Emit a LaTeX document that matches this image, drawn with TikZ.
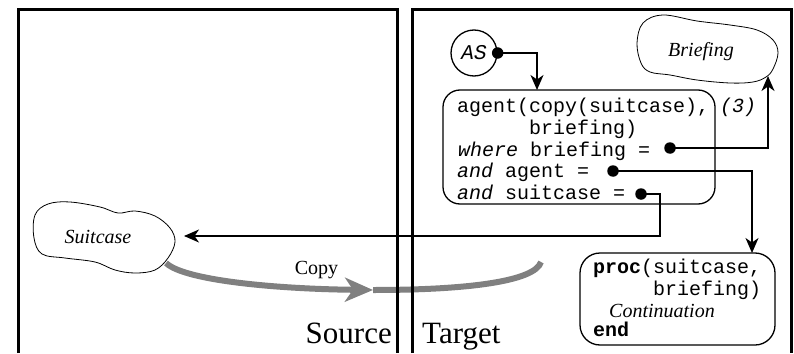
\documentclass[tikz,border=0pt]{standalone}
\usepackage{fontspec}
\setmainfont{Liberation Serif}
\setmonofont{Liberation Mono}
\usetikzlibrary{arrows.meta}
\begin{document}
\begin{tikzpicture}[x=1pt,y=-1pt,
  panel/.style={line width=3pt},
  conn/.style={line width=1.4pt,-{Stealth[length=15pt,width=13pt,inset=4.5pt]}},
  dot/.style={circle,fill=black,inner sep=0pt,minimum size=11.5pt},
  cloudline/.style={line width=0.8pt},
  codebox/.style={draw,line width=1.3pt,rounded corners=17pt,inner sep=0pt},
  code/.style={font=\ttfamily\fontsize{20}{22}\selectfont,inner sep=0pt,anchor=base west},
  serif/.style={font=\fontsize{20}{22}\selectfont,inner sep=0pt},
  big/.style={font=\fontsize{31}{34}\selectfont,inner sep=0pt},
  copyline/.style={line width=6pt,draw=black!50},
]
\useasboundingbox (0,0) rectangle (794,353);

% gray copy arrow
\coordinate (cs) at (166,263);
\coordinate (cm) at (373,290);
\coordinate (ce) at (541,262);
\draw[copyline,-{Stealth[length=28pt,width=24pt,inset=8pt]}] (cs) .. controls (185,281) and (280,289) .. (cm);
\draw[copyline] (cm) .. controls (470,290) and (535,281) .. (ce);
\node[serif] (copylbl) at (316.5,270) {Copy};

% panels
\draw[panel] (18.5,353) -- (18.5,9.5) -- (397.5,9.5) -- (397.5,353);
\draw[panel] (412.5,353) -- (412.5,9.5) -- (791.5,9.5) -- (791.5,353);
\node[big,anchor=base east] (source) at (392,343) {Source};
\node[big,anchor=base west] (target) at (422,343) {Target};

% clouds
\draw[cloudline] plot[smooth cycle,tension=0.6] coordinates {(35,215) (48,204) (70,202) (100,207) (118,213) (135,211) (155,216) (170,228) (175,242) (168,258) (155,270) (135,273) (115,270) (95,262) (65,258) (42,254) (34,238)};
\node[serif,font=\itshape\fontsize{20}{22}\selectfont] (suitcase) at (98,237) {Suitcase};
\coordinate (sc) at (184,236);

\draw[cloudline] plot[smooth cycle,tension=0.6] coordinates {(643,23) (663,15) (697,21) (730,25) (757,30) (773,40) (778,53) (773,69) (766,77) (753,82) (730,83) (697,80) (670,75) (650,72) (641,63) (637,43)};
\node[serif,font=\itshape\fontsize{20}{22}\selectfont] (briefing) at (701,52) {Briefing};
\coordinate (bt) at (768,76);

% AS
\node[draw,circle,line width=1.3pt,minimum size=46pt,inner sep=0pt,font=\ttfamily\itshape\fontsize{21}{22}\selectfont] (as) at (474,53) {AS};
\node[dot] (asdot) at (as.east) {};

% main box
\node[codebox,minimum width=272pt,minimum height=114pt] (mainbox) at (579,147) {};
\coordinate (m1) at (537,90);
\node[code] (l1) at (457,112.5) {agent(copy(suitcase),};
\node[code] (l2) at (529,134.25) {briefing)};
\node[code] (l3) at (458,156) {\itshape where\upshape{} briefing =};
\node[code] (l4) at (457,177.75) {\itshape and\upshape{} agent =};
\node[code] (l5) at (457,199.5) {\itshape and\upshape{} suitcase =};
\node[code,font=\ttfamily\itshape\fontsize{20}{22}\selectfont] (three) at (720,112.5) {(3)};
\node[dot] (d1) at (670,148) {};
\node[dot] (d2) at (613,171) {};
\node[dot] (d3) at (641,194) {};

% proc box
\node[codebox,rounded corners=20pt,minimum width=195pt,minimum height=92pt] (procbox) at (677.5,299) {};
\coordinate (p1) at (752,253);
\node[code] (q1) at (593,273) {\bfseries proc\mdseries(suitcase,};
\node[code] (q2) at (653,295) {briefing)};
\node[serif,anchor=base west,font=\itshape\fontsize{20}{22}\selectfont] (q3) at (609,317) {Continuation};
\node[code] (q4) at (593,336) {\bfseries end};

% connectors
\coordinate (s1) at (660,236);
\draw[conn] (asdot.center) -| (m1);
\draw[conn] (d1.center) -| (bt);
\draw[conn] (d2.center) -| (p1);
\draw[conn] (d3.center) -| (s1) -- (sc);
\end{tikzpicture}
\end{document}
